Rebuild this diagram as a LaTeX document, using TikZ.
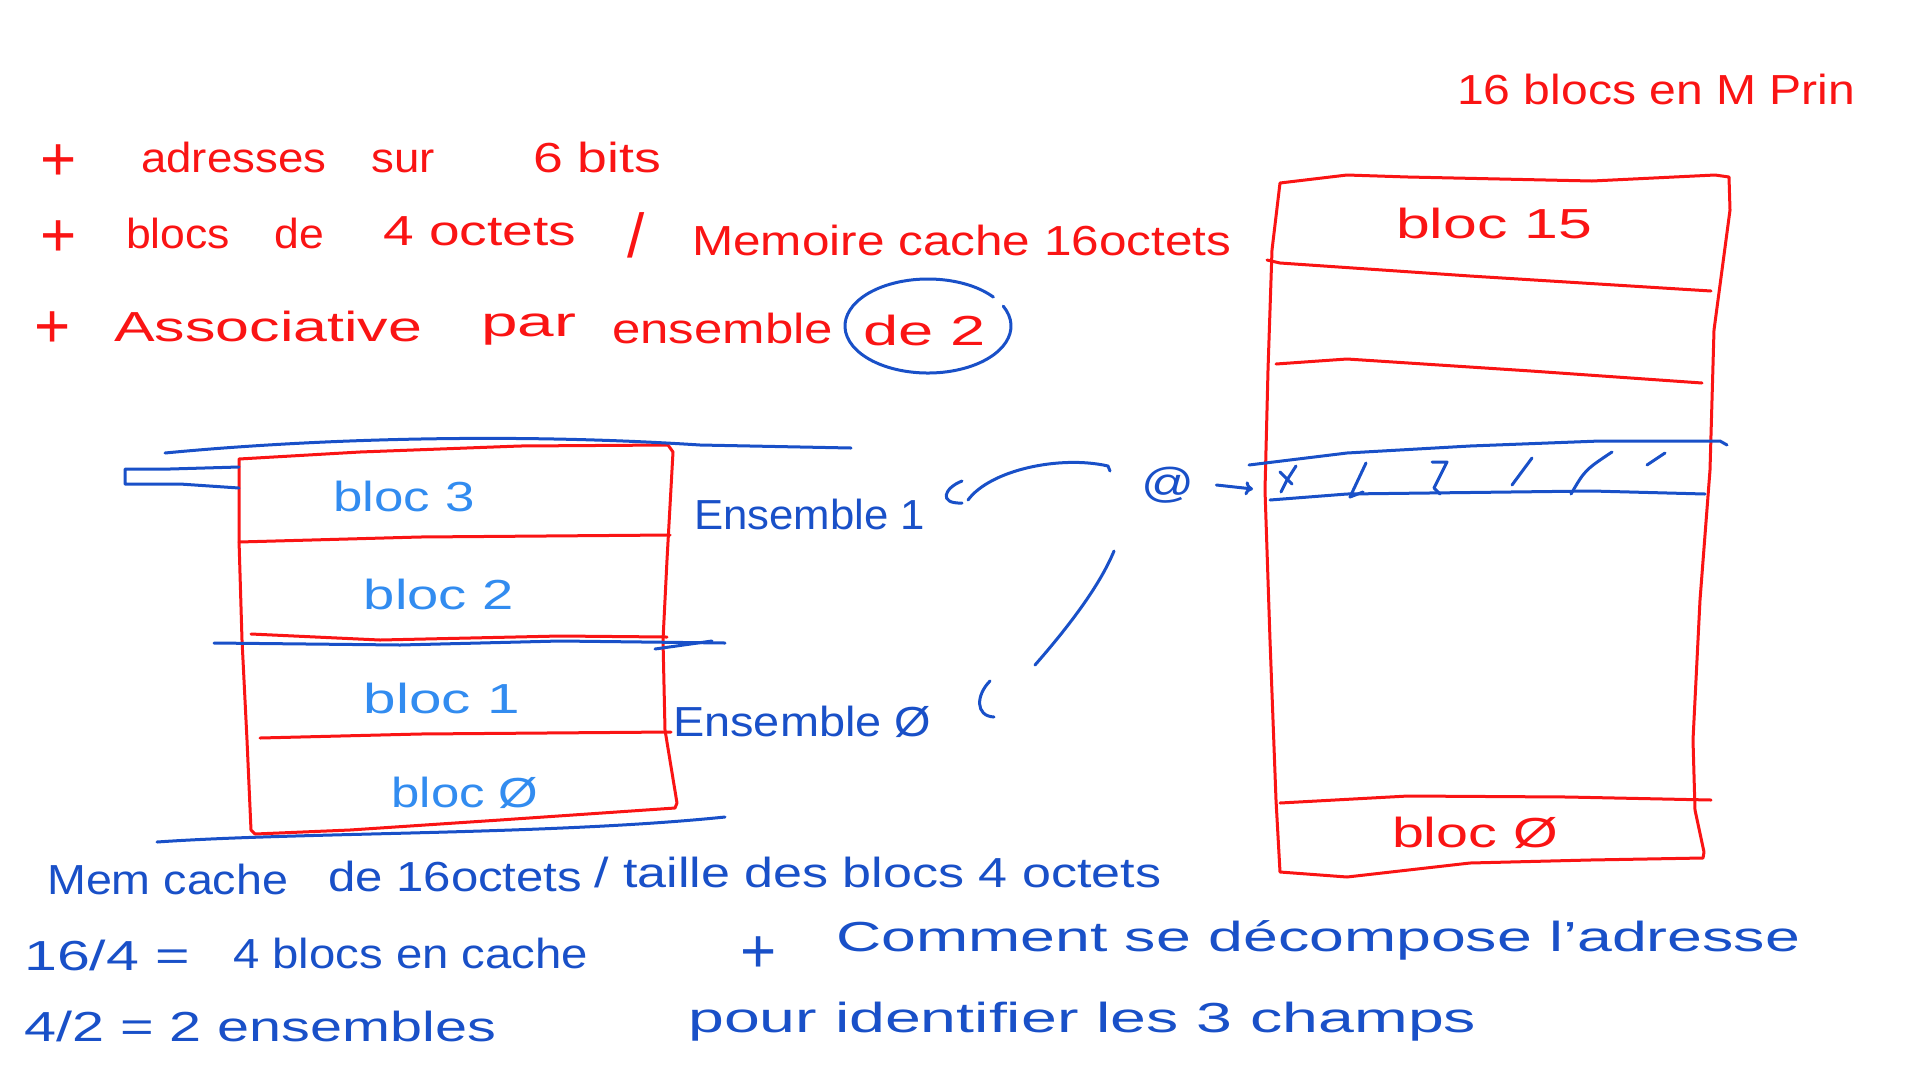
\documentclass[tikz,border=0pt]{standalone}
\usepackage{fontspec}
\setmainfont{Liberation Sans}
\usepackage{graphicx}
\usetikzlibrary{arrows.meta}
\definecolor{pred}{RGB}{250,20,20}
\definecolor{pblue}{RGB}{25,80,200}
\definecolor{lblue}{RGB}{50,140,240}
\newcommand{\hw}[2]{\resizebox{#1pt}{\height}{#2}}
\tikzset{
  txt/.style={inner sep=0pt, anchor=west, font=\fontsize{42}{50}\selectfont},
  redtxt/.style={txt, text=pred},
  bluetxt/.style={txt, text=pblue},
  lbtxt/.style={txt, anchor=center, text=lblue},
  plus/.style={inner sep=0pt, anchor=west, font=\fontsize{62}{70}\selectfont},
  rline/.style={draw=pred, line width=3pt, line cap=round, line join=round},
  bline/.style={draw=pblue, line width=3pt, line cap=round, line join=round},
}
\begin{document}
\begin{tikzpicture}[x=1pt,y=-1pt]
\useasboundingbox[fill=white] (0,0) rectangle (1920,1080);

% ---------- red header text ----------
\node[plus, text=pred] (r1a) at (40,163) {+};
\node[redtxt] (r1b) at (141,157) {\hw{294}{adresses\quad sur}};
\node[redtxt] (r1c) at (533,157) {\hw{128}{6 bits}};
\node[plus, text=pred] (r2a) at (40,239) {+};
\node[redtxt] (r2b) at (126,233) {\hw{198}{blocs\quad de}};
\node[redtxt] (r2c) at (383,231) {\hw{193}{4 octets}};
\node[plus, text=pred] (r2d) at (627,235) {/};
\node[redtxt] (r2e) at (692,240) {\hw{539}{Memoire cache 16octets}};
\node[plus, text=pred] (r3a) at (34,330) {+};
\node[redtxt] (r3b) at (114,326) {\hw{308}{Associative}};
\node[redtxt] (r3c) at (481,330) {\hw{95}{par}};
\node[redtxt] (r3d) at (612,328) {\hw{221}{ensemble}};
\node[redtxt] (r3e) at (863,330) {\hw{123}{de 2}};
\node[redtxt] (rtop) at (1457,89) {\hw{398}{16 blocs en M Prin}};

% blue ellipse around "de 2"
\draw[bline] (928,326) ++(-25:83 and 47) arc[start angle=-25, end angle=322, x radius=83, y radius=47];

% ---------- left box (cache) ----------
\draw[rline] (239,459) -- (360,452) -- (520,446) -- (668,445) -- (673,452)
  -- (667,560) -- (663,640) -- (665,730) -- (677,803) -- (675,808)
  -- (500,820) -- (350,830) -- (255,834) -- (251,830)
  -- (247,740) -- (242,640) -- (239,540) -- cycle;
\draw[rline] (239,542) -- (420,537) -- (670,535);
\draw[rline] (251,634) -- (380,640) -- (560,636) -- (667,637);
\draw[rline] (260,738) -- (420,734) -- (671,732);

\draw[bline] (165,453) .. controls (300,440) and (500,432) .. (700,445) -- (851,448);
\draw[bline] (239,467) -- (170,469) -- (125,469) -- (125,484) -- (180,484) -- (239,488);
\draw[bline] (214,643) -- (400,645) -- (560,641) -- (725,643);
\draw[bline] (655,649) -- (712,641);
\draw[bline] (157,842) .. controls (300,832) and (550,835) .. (725,817);

\node[lbtxt] (lb3) at (404,496) {\hw{141}{bloc 3}};
\node[lbtxt] (lb2) at (439,594) {\hw{150}{bloc 2}};
\node[lbtxt] (lb1) at (442,698) {\hw{156}{bloc 1}};
\node[lbtxt] (lb0) at (465,793) {\hw{147}{bloc Ø}};

\node[bluetxt] (e1) at (694,514) {\hw{231}{Ensemble 1}};
\node[bluetxt] (e0) at (673,722) {\hw{258}{Ensemble Ø}};

% ---------- right box (main memory) ----------
\draw[rline] (1280,183) -- (1347,175) -- (1408,177) -- (1592,181) -- (1715,175) -- (1729,177)
  -- (1730,210) -- (1714,330) -- (1710,470) -- (1700,600) -- (1693,740) -- (1695,810)
  -- (1704,852) -- (1703,858) -- (1590,860) -- (1470,863) -- (1347,877) -- (1280,872)
  -- (1276,800) -- (1270,640) -- (1265,490) -- (1268,370) -- (1272,250) -- cycle;
\draw[rline] (1267,260) -- (1280,263) -- (1470,276) -- (1711,291);
\draw[rline] (1276,364) -- (1347,359) -- (1531,371) -- (1702,383);
\draw[rline] (1280,803) -- (1408,796) -- (1567,797) -- (1711,800);

\node[redtxt, anchor=center] (rb15) at (1494,223) {\hw{196}{bloc 15}};
\node[redtxt, anchor=center] (rb0) at (1475,833) {\hw{166}{bloc Ø}};

% blue hatched band
\draw[bline] (1249,465) -- (1347,453) -- (1470,446) -- (1600,441) -- (1720,441) -- (1727,445);
\draw[bline] (1270,500) -- (1347,494) -- (1592,491) -- (1705,494);
\draw[bline] (1281,492) -- (1287,480) -- (1296,466);
\draw[bline] (1280,472) -- (1292,484);
\draw[bline] (1350,497) -- (1358,480) -- (1366,463);
\draw[bline] (1350,497) -- (1363,492);
\draw[bline] (1432,462) -- (1447,462) -- (1434,488) -- (1440,494);
\draw[bline] (1512,485) -- (1532,458);
\draw[bline] (1571,494) .. controls (1585,470) .. (1612,452);
\draw[bline] (1647,465) -- (1665,453);

\node[bluetxt] (at) at (1141,485) {\hw{53}{@}};
\coordinate (arrowEnd) at (1253,489);
\draw[bline, -{To[length=8pt,width=14pt]}] ([xshift=22pt]at.east) -- (arrowEnd);

% blue curves
\draw[bline] (962,481) .. controls (944,488) and (938,504) .. (962,503);
\draw[bline] (968,500) .. controls (990,470) and (1060,455) .. (1108,466) -- (1110,471);
\draw[bline] (1114,551) .. controls (1100,585) and (1070,625) .. (1035,665);
\draw[bline] (990,681) .. controls (976,695) and (975,716) .. (994,717);

% ---------- bottom blue text ----------
\node[bluetxt] (b1a) at (47,879) {\hw{241}{Mem cache}};
\node[bluetxt] (b1b) at (328,876) {\hw{254}{de 16octets}};
\node[bluetxt] (b1c) at (594,872) {\hw{567}{/ taille des blocs 4 octets}};
\node[bluetxt] (b2a) at (24,955) {\hw{166}{16/4 =}};
\node[bluetxt] (b2b) at (233,953) {\hw{355}{4 blocs en cache}};
\node[bluetxt] (b3) at (24,1026) {\hw{472}{4/2 = 2 ensembles}};
\node[plus, text=pblue] (b4a) at (740,955) {+};
\node[bluetxt] (b4b) at (836,940) {\hw{964}{Comment se décompose l'adresse}};
\node[bluetxt] (b5) at (688,1022) {\hw{788}{pour identifier les 3 champs}};
\end{tikzpicture}
\end{document}
